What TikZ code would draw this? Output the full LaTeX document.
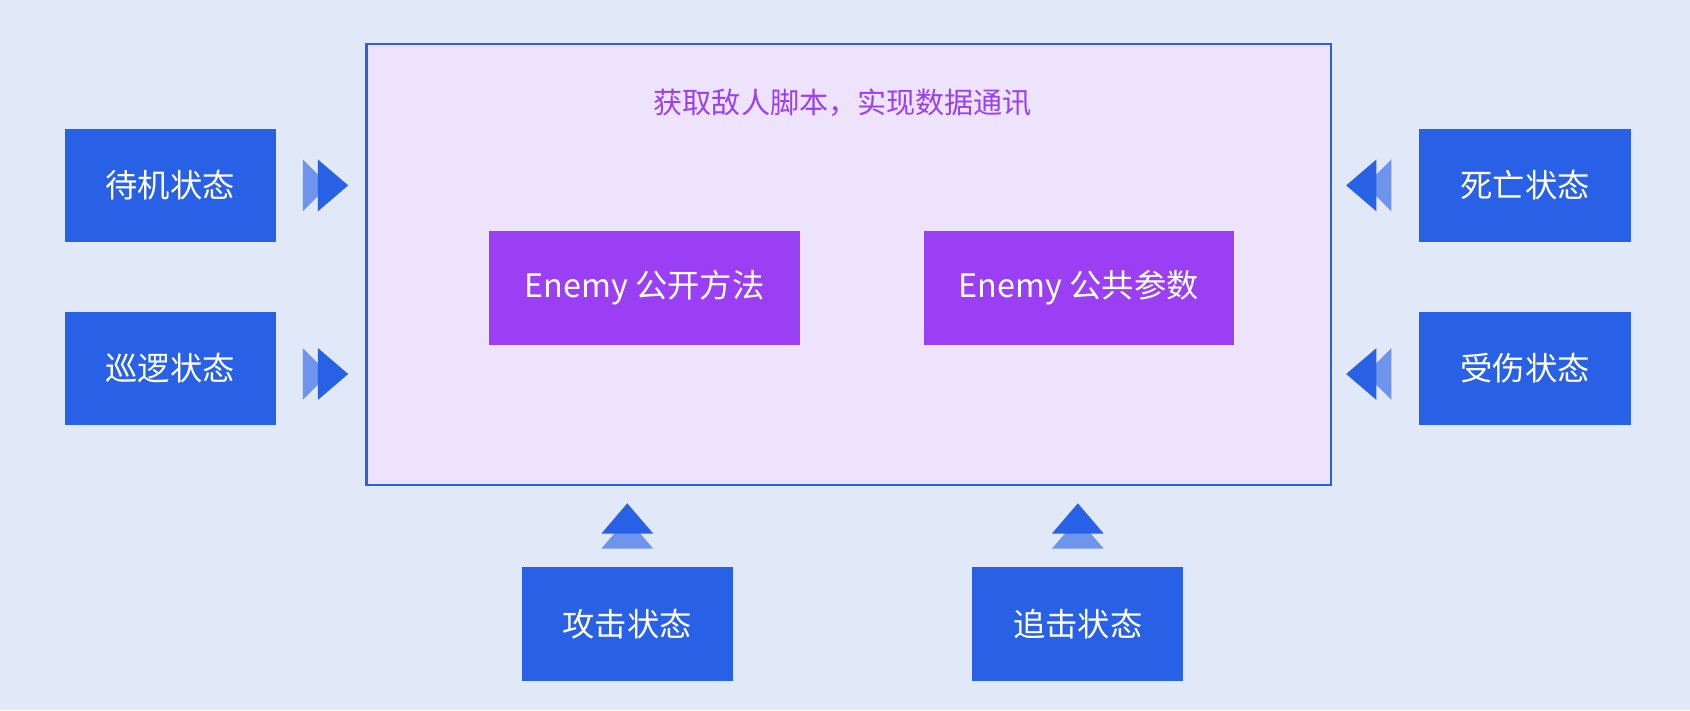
\documentclass[tikz,border=0pt]{standalone}
\usepackage{fontspec}
\setmainfont{Noto Sans CJK SC}
\usetikzlibrary{positioning}
\definecolor{bgc}{HTML}{E1E8F8}
\definecolor{stblue}{HTML}{2961E6}
\definecolor{stlight}{HTML}{6F94EE}
\definecolor{enpurple}{HTML}{9B3FF5}
\definecolor{boxfill}{HTML}{EDE3FC}
\tikzset{
  state/.style={fill=stblue, text=white, minimum width=98pt, minimum height=52.5pt, inner sep=0pt, font=\fontsize{15}{18}\selectfont},
  part/.style={fill=enpurple, text=white, minimum width=144pt, minimum height=53pt, inner sep=0pt, font=\fontsize{15}{18}\selectfont},
}
% chevron pointing right / left / up at a coordinate
\newcommand*{\chevr}[1]{\fill[stlight] (#1) ++(-21pt,-12pt) -- ++(12pt,12pt) -- ++(-12pt,12pt) -- cycle;
  \fill[stblue] (#1) ++(-14pt,-12pt) -- ++(14pt,12pt) -- ++(-14pt,12pt) -- cycle;}
\newcommand*{\chevl}[1]{\fill[stlight] (#1) ++(21pt,-12pt) -- ++(-12pt,12pt) -- ++(12pt,12pt) -- cycle;
  \fill[stblue] (#1) ++(14pt,-12pt) -- ++(-14pt,12pt) -- ++(14pt,12pt) -- cycle;}
\newcommand*{\chevu}[1]{\fill[stlight] (#1) ++(-12pt,-21pt) -- ++(12pt,14pt) -- ++(12pt,-14pt) -- cycle;
  \fill[stblue] (#1) ++(-12pt,-14pt) -- ++(12pt,14pt) -- ++(12pt,-14pt) -- cycle;}
\begin{document}
\begin{tikzpicture}[x=0.5pt,y=-0.5pt]
 \fill[bgc] (0,0) rectangle (1568,659);
 \useasboundingbox (0,0) rectangle (1568,659);
 \draw[stblue, line width=1.2pt, fill=boxfill] (340,41) rectangle (1235,450);
 \node[text=enpurple, font=\fontsize{13.5}{16}\selectfont] (title) at (782,95) {获取敌人脚本，实现数据通讯};
 \node[part] (methods) at (598,267) {Enemy 公开方法};
 \node[part] (params) at (1001,267) {Enemy 公共参数};

 \node[state] (idle) at (158,172) {待机状态};
 \node[state] (patrol) at (158,342) {巡逻状态};
 \node[state] (dead) at (1415,172) {死亡状态};
 \node[state] (hurt) at (1415,342) {受伤状态};
 \node[state] (attack) at (582,579) {攻击状态};
 \node[state] (chase) at (1000,579) {追击状态};

 \coordinate (ai) at (323,172);
 \coordinate (ap) at (323,347);
 \coordinate (ad) at (1249,172);
 \coordinate (ah) at (1249,347);
 \coordinate (aa) at (582,467);
 \coordinate (ac) at (1000,467);
 \chevr{ai} \chevr{ap}
 \chevl{ad} \chevl{ah}
 \chevu{aa} \chevu{ac}
\end{tikzpicture}
\end{document}
